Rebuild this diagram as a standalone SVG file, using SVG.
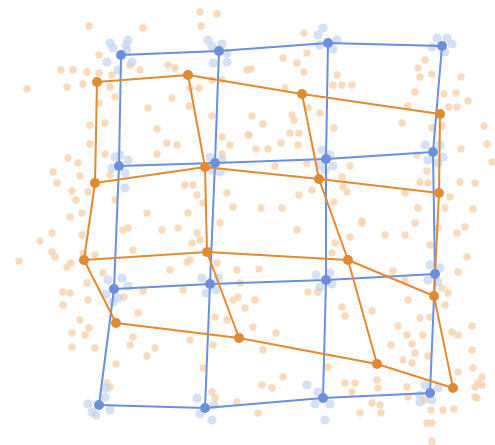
<svg xmlns="http://www.w3.org/2000/svg" width="495" height="445" viewBox="0 0 495 445">
<style>
.od circle{fill:#f6d5b0;opacity:0.85;r:3.7px}
.bd circle{fill:#c3d3f0;opacity:0.7;r:4.6px}
.bl{stroke:#6b8fdb;stroke-width:2;fill:none;stroke-linejoin:round}
.ol{stroke:#e28a30;stroke-width:2;fill:none;stroke-linejoin:round}
.bn{fill:#6b8fdb}
.on{fill:#e28a30}
</style>
<rect width="495" height="445" fill="#ffffff"/>
<g id="samples">
<g class="od">
<circle cx="200" cy="12" r="3.7"/><circle cx="217" cy="14" r="3.7"/><circle cx="201" cy="26" r="3.7"/><circle cx="89" cy="26" r="3.7"/><circle cx="143" cy="28" r="3.7"/><circle cx="99" cy="55" r="3.7"/><circle cx="61" cy="70" r="3.7"/><circle cx="73" cy="70" r="3.7"/><circle cx="87" cy="72" r="3.7"/><circle cx="99" cy="73" r="3.7"/><circle cx="112" cy="75" r="3.7"/><circle cx="130" cy="65" r="3.7"/><circle cx="140" cy="70" r="3.7"/><circle cx="168" cy="65" r="3.7"/><circle cx="175" cy="68" r="3.7"/><circle cx="27" cy="89" r="3.7"/><circle cx="67" cy="87" r="3.7"/><circle cx="83" cy="84" r="3.7"/><circle cx="110" cy="87" r="3.7"/><circle cx="115" cy="97" r="3.7"/><circle cx="172" cy="98" r="3.7"/><circle cx="190" cy="88" r="3.7"/><circle cx="199" cy="88" r="3.7"/><circle cx="212" cy="80" r="3.7"/><circle cx="222" cy="80" r="3.7"/><circle cx="247" cy="70" r="3.7"/><circle cx="99" cy="103" r="3.7"/><circle cx="148" cy="108" r="3.7"/><circle cx="189" cy="106" r="3.7"/><circle cx="212" cy="116" r="3.7"/><circle cx="90" cy="125" r="3.7"/><circle cx="105" cy="123" r="3.7"/><circle cx="157" cy="129" r="3.7"/><circle cx="248" cy="135" r="3.7"/><circle cx="90" cy="144" r="3.7"/><circle cx="167" cy="143" r="3.7"/><circle cx="177" cy="145" r="3.7"/><circle cx="222" cy="137" r="3.7"/><circle cx="230" cy="145" r="3.7"/><circle cx="105" cy="154" r="3.7"/><circle cx="157" cy="154" r="3.7"/><circle cx="68" cy="158" r="3.7"/><circle cx="78" cy="163" r="3.7"/><circle cx="53" cy="172" r="3.7"/><circle cx="80" cy="176" r="3.7"/><circle cx="110" cy="175" r="3.7"/><circle cx="222" cy="154" r="3.7"/><circle cx="57" cy="183" r="3.7"/><circle cx="185" cy="185" r="3.7"/><circle cx="193" cy="185" r="3.7"/><circle cx="72" cy="191" r="3.7"/><circle cx="76" cy="200" r="3.7"/><circle cx="88" cy="192" r="3.7"/><circle cx="197" cy="195" r="3.7"/><circle cx="227" cy="193" r="3.7"/><circle cx="203" cy="203" r="3.7"/><circle cx="233" cy="207" r="3.7"/><circle cx="70" cy="217" r="3.7"/><circle cx="82" cy="213" r="3.7"/><circle cx="147" cy="213" r="3.7"/><circle cx="188" cy="213" r="3.7"/><circle cx="115" cy="200" r="3.7"/>
<circle cx="304" cy="33" r="3.7"/><circle cx="283" cy="58" r="3.7"/><circle cx="297" cy="63" r="3.7"/><circle cx="307" cy="53" r="3.7"/><circle cx="304" cy="72" r="3.7"/><circle cx="251" cy="69" r="3.7"/><circle cx="337" cy="75" r="3.7"/><circle cx="333" cy="85" r="3.7"/><circle cx="342" cy="85" r="3.7"/><circle cx="352" cy="85" r="3.7"/><circle cx="285" cy="88" r="3.7"/><circle cx="425" cy="60" r="3.7"/><circle cx="418" cy="68" r="3.7"/><circle cx="420" cy="77" r="3.7"/><circle cx="432" cy="74" r="3.7"/><circle cx="461" cy="77" r="3.7"/><circle cx="415" cy="92" r="3.7"/><circle cx="444" cy="94" r="3.7"/><circle cx="456" cy="93" r="3.7"/><circle cx="468" cy="101" r="3.7"/><circle cx="449" cy="107" r="3.7"/><circle cx="457" cy="107" r="3.7"/><circle cx="408" cy="106" r="3.7"/><circle cx="308" cy="108" r="3.7"/><circle cx="320" cy="113" r="3.7"/><circle cx="252" cy="116" r="3.7"/><circle cx="263" cy="124" r="3.7"/><circle cx="292" cy="115" r="3.7"/><circle cx="294" cy="120" r="3.7"/><circle cx="290" cy="133" r="3.7"/><circle cx="299" cy="133" r="3.7"/><circle cx="249" cy="135" r="3.7"/><circle cx="334" cy="128" r="3.7"/><circle cx="402" cy="123" r="3.7"/><circle cx="432" cy="128" r="3.7"/><circle cx="442" cy="126" r="3.7"/><circle cx="484" cy="126" r="3.7"/><circle cx="487" cy="144" r="3.7"/><circle cx="492" cy="162" r="3.7"/><circle cx="298" cy="145" r="3.7"/><circle cx="281" cy="143" r="3.7"/><circle cx="256" cy="149" r="3.7"/><circle cx="268" cy="149" r="3.7"/><circle cx="461" cy="149" r="3.7"/><circle cx="417" cy="155" r="3.7"/><circle cx="275" cy="166" r="3.7"/><circle cx="307" cy="163" r="3.7"/><circle cx="350" cy="166" r="3.7"/><circle cx="342" cy="177" r="3.7"/><circle cx="427" cy="171" r="3.7"/><circle cx="420" cy="182" r="3.7"/><circle cx="428" cy="183" r="3.7"/><circle cx="460" cy="182" r="3.7"/><circle cx="475" cy="183" r="3.7"/><circle cx="343" cy="187" r="3.7"/><circle cx="347" cy="192" r="3.7"/><circle cx="299" cy="195" r="3.7"/><circle cx="312" cy="190" r="3.7"/><circle cx="334" cy="202" r="3.7"/><circle cx="450" cy="197" r="3.7"/><circle cx="445" cy="208" r="3.7"/><circle cx="418" cy="208" r="3.7"/><circle cx="473" cy="209" r="3.7"/><circle cx="261" cy="208" r="3.7"/><circle cx="282" cy="208" r="3.7"/><circle cx="362" cy="221" r="3.7"/><circle cx="405" cy="193" r="3.7"/>
<circle cx="52" cy="233" r="3.7"/><circle cx="40" cy="241" r="3.7"/><circle cx="52" cy="252" r="3.7"/><circle cx="55" cy="257" r="3.7"/><circle cx="19" cy="261" r="3.7"/><circle cx="67" cy="267" r="3.7"/><circle cx="71" cy="263" r="3.7"/><circle cx="83" cy="253" r="3.7"/><circle cx="95" cy="255" r="3.7"/><circle cx="82" cy="235" r="3.7"/><circle cx="123" cy="230" r="3.7"/><circle cx="128" cy="228" r="3.7"/><circle cx="133" cy="250" r="3.7"/><circle cx="162" cy="230" r="3.7"/><circle cx="178" cy="228" r="3.7"/><circle cx="192" cy="243" r="3.7"/><circle cx="197" cy="233" r="3.7"/><circle cx="200" cy="240" r="3.7"/><circle cx="170" cy="270" r="3.7"/><circle cx="187" cy="262" r="3.7"/><circle cx="190" cy="260" r="3.7"/><circle cx="220" cy="223" r="3.7"/><circle cx="217" cy="263" r="3.7"/><circle cx="103" cy="273" r="3.7"/><circle cx="87" cy="283" r="3.7"/><circle cx="63" cy="292" r="3.7"/><circle cx="70" cy="293" r="3.7"/><circle cx="63" cy="305" r="3.7"/><circle cx="88" cy="300" r="3.7"/><circle cx="124" cy="297" r="3.7"/><circle cx="143" cy="291" r="3.7"/><circle cx="183" cy="290" r="3.7"/><circle cx="80" cy="320" r="3.7"/><circle cx="89" cy="328" r="3.7"/><circle cx="72" cy="333" r="3.7"/><circle cx="85" cy="335" r="3.7"/><circle cx="138" cy="313" r="3.7"/><circle cx="133" cy="337" r="3.7"/><circle cx="130" cy="345" r="3.7"/><circle cx="155" cy="348" r="3.7"/><circle cx="147" cy="356" r="3.7"/><circle cx="72" cy="347" r="3.7"/><circle cx="95" cy="348" r="3.7"/><circle cx="116" cy="364" r="3.7"/><circle cx="190" cy="340" r="3.7"/><circle cx="203" cy="368" r="3.7"/><circle cx="213" cy="345" r="3.7"/><circle cx="215" cy="317" r="3.7"/><circle cx="227" cy="320" r="3.7"/><circle cx="233" cy="300" r="3.7"/><circle cx="238" cy="297" r="3.7"/><circle cx="237" cy="270" r="3.7"/><circle cx="245" cy="308" r="3.7"/><circle cx="240" cy="283" r="3.7"/><circle cx="212" cy="392" r="3.7"/><circle cx="215" cy="398" r="3.7"/><circle cx="237" cy="402" r="3.7"/><circle cx="107" cy="383" r="3.7"/><circle cx="110" cy="387" r="3.7"/>
<circle cx="297" cy="230" r="3.7"/><circle cx="350" cy="237" r="3.7"/><circle cx="362" cy="223" r="3.7"/><circle cx="385" cy="235" r="3.7"/><circle cx="405" cy="235" r="3.7"/><circle cx="415" cy="223" r="3.7"/><circle cx="438" cy="228" r="3.7"/><circle cx="457" cy="233" r="3.7"/><circle cx="465" cy="227" r="3.7"/><circle cx="430" cy="245" r="3.7"/><circle cx="467" cy="257" r="3.7"/><circle cx="458" cy="272" r="3.7"/><circle cx="335" cy="243" r="3.7"/><circle cx="332" cy="253" r="3.7"/><circle cx="259" cy="269" r="3.7"/><circle cx="393" cy="271" r="3.7"/><circle cx="405" cy="280" r="3.7"/><circle cx="308" cy="292" r="3.7"/><circle cx="318" cy="292" r="3.7"/><circle cx="255" cy="300" r="3.7"/><circle cx="342" cy="307" r="3.7"/><circle cx="345" cy="316" r="3.7"/><circle cx="372" cy="311" r="3.7"/><circle cx="408" cy="300" r="3.7"/><circle cx="420" cy="318" r="3.7"/><circle cx="430" cy="317" r="3.7"/><circle cx="442" cy="288" r="3.7"/><circle cx="448" cy="293" r="3.7"/><circle cx="445" cy="305" r="3.7"/><circle cx="472" cy="326" r="3.7"/><circle cx="253" cy="327" r="3.7"/><circle cx="276" cy="333" r="3.7"/><circle cx="398" cy="326" r="3.7"/><circle cx="407" cy="335" r="3.7"/><circle cx="423" cy="335" r="3.7"/><circle cx="412" cy="344" r="3.7"/><circle cx="452" cy="332" r="3.7"/><circle cx="458" cy="335" r="3.7"/><circle cx="391" cy="345" r="3.7"/><circle cx="415" cy="353" r="3.7"/><circle cx="428" cy="356" r="3.7"/><circle cx="403" cy="360" r="3.7"/><circle cx="412" cy="363" r="3.7"/><circle cx="472" cy="350" r="3.7"/><circle cx="473" cy="368" r="3.7"/><circle cx="482" cy="377" r="3.7"/><circle cx="478" cy="383" r="3.7"/><circle cx="475" cy="387" r="3.7"/><circle cx="458" cy="372" r="3.7"/><circle cx="263" cy="350" r="3.7"/><circle cx="283" cy="377" r="3.7"/><circle cx="328" cy="367" r="3.7"/><circle cx="262" cy="385" r="3.7"/><circle cx="272" cy="388" r="3.7"/><circle cx="345" cy="383" r="3.7"/><circle cx="355" cy="383" r="3.7"/><circle cx="377" cy="380" r="3.7"/><circle cx="378" cy="388" r="3.7"/><circle cx="352" cy="392" r="3.7"/><circle cx="407" cy="387" r="3.7"/><circle cx="408" cy="397" r="3.7"/><circle cx="425" cy="400" r="3.7"/><circle cx="372" cy="403" r="3.7"/><circle cx="380" cy="405" r="3.7"/><circle cx="381" cy="413" r="3.7"/><circle cx="360" cy="413" r="3.7"/><circle cx="431" cy="410" r="3.7"/><circle cx="443" cy="410" r="3.7"/><circle cx="454" cy="409" r="3.7"/><circle cx="432" cy="423" r="3.7"/><circle cx="427" cy="423" r="3.7"/><circle cx="475" cy="397" r="3.7"/><circle cx="432" cy="441" r="3.7"/><circle cx="258" cy="413" r="3.7"/><circle cx="482" cy="385" r="3.7"/><circle cx="477" cy="398" r="3.7"/>
</g>
<g class="bd">
<circle cx="110" cy="43" r="4.6"/><circle cx="128" cy="40" r="4.6"/><circle cx="127" cy="50" r="4.6"/><circle cx="107" cy="62" r="4.6"/><circle cx="132" cy="62" r="4.6"/><circle cx="118" cy="70" r="4.6"/><circle cx="113" cy="48" r="4.6"/><circle cx="126" cy="45" r="4.6"/>
<circle cx="208" cy="40" r="4.6"/><circle cx="212" cy="46" r="4.6"/><circle cx="227" cy="53" r="4.6"/><circle cx="213" cy="63" r="4.6"/><circle cx="227" cy="62" r="4.6"/><circle cx="222" cy="44" r="4.6"/>
<circle cx="318" cy="35" r="4.6"/><circle cx="320" cy="45" r="4.6"/><circle cx="333" cy="49" r="4.6"/><circle cx="323" cy="28" r="4.6"/><circle cx="337" cy="40" r="4.6"/>
<circle cx="432" cy="47" r="4.6"/><circle cx="447" cy="38" r="4.6"/><circle cx="452" cy="44" r="4.6"/><circle cx="437" cy="38" r="4.6"/><circle cx="445" cy="52" r="4.6"/>
<circle cx="115" cy="157" r="4.6"/><circle cx="128" cy="160" r="4.6"/><circle cx="125" cy="173" r="4.6"/><circle cx="125" cy="188" r="4.6"/><circle cx="112" cy="168" r="4.6"/><circle cx="120" cy="155" r="4.6"/>
<circle cx="210" cy="157" r="4.6"/><circle cx="222" cy="160" r="4.6"/><circle cx="212" cy="170" r="4.6"/><circle cx="220" cy="172" r="4.6"/>
<circle cx="322" cy="150" r="4.6"/><circle cx="330" cy="155" r="4.6"/><circle cx="320" cy="165" r="4.6"/><circle cx="333" cy="166" r="4.6"/><circle cx="325" cy="170" r="4.6"/>
<circle cx="425" cy="145" r="4.6"/><circle cx="428" cy="160" r="4.6"/><circle cx="440" cy="145" r="4.6"/><circle cx="443" cy="157" r="4.6"/><circle cx="438" cy="163" r="4.6"/>
<circle cx="108" cy="280" r="4.6"/><circle cx="122" cy="278" r="4.6"/><circle cx="106" cy="294" r="4.6"/><circle cx="118" cy="298" r="4.6"/><circle cx="113" cy="302" r="4.6"/><circle cx="128" cy="286" r="4.6"/>
<circle cx="202" cy="278" r="4.6"/><circle cx="206" cy="293" r="4.6"/><circle cx="216" cy="290" r="4.6"/><circle cx="218" cy="278" r="4.6"/>
<circle cx="316" cy="275" r="4.6"/><circle cx="320" cy="287" r="4.6"/><circle cx="332" cy="284" r="4.6"/><circle cx="330" cy="273" r="4.6"/>
<circle cx="430" cy="265" r="4.6"/><circle cx="440" cy="268" r="4.6"/><circle cx="438" cy="282" r="4.6"/><circle cx="428" cy="280" r="4.6"/>
<circle cx="88" cy="404" r="4.6"/><circle cx="92" cy="412" r="4.6"/><circle cx="105" cy="397" r="4.6"/><circle cx="110" cy="410" r="4.6"/><circle cx="96" cy="415" r="4.6"/><circle cx="106" cy="388" r="4.6"/>
<circle cx="197" cy="398" r="4.6"/><circle cx="200" cy="414" r="4.6"/><circle cx="212" cy="420" r="4.6"/><circle cx="214" cy="405" r="4.6"/>
<circle cx="307" cy="385" r="4.6"/><circle cx="318" cy="392" r="4.6"/><circle cx="315" cy="404" r="4.6"/><circle cx="330" cy="404" r="4.6"/><circle cx="325" cy="420" r="4.6"/>
<circle cx="420" cy="395" r="4.6"/><circle cx="425" cy="385" r="4.6"/><circle cx="438" cy="388" r="4.6"/><circle cx="432" cy="400" r="4.6"/><circle cx="420" cy="402" r="4.6"/>
</g>
</g>
<g id="connectors">
<g class="bl">
<polyline points="121,55 219,51 328,43 442,46"/>
<polyline points="119,166 215,163 326,159 433,152"/>
<polyline points="114,289 210,284 326,280 435,274"/>
<polyline points="99,405 205,408 323,398 430,393"/>
<polyline points="121,55 119,166 114,289 99,405"/>
<polyline points="219,51 215,163 210,284 205,408"/>
<polyline points="328,43 326,159 326,280 323,398"/>
<polyline points="442,46 433,152 435,274 430,393"/>
</g>
<g class="ol">
<polyline points="97,82 188,75 302,94 440,114"/>
<polyline points="95,183 205,167 319,179 439,193"/>
<polyline points="84,260 207,252 348,260 434,296"/>
<polyline points="116,323 239,338 377,364 453,388"/>
<polyline points="97,82 95,183 84,260 116,323"/>
<polyline points="188,75 205,167 207,252 239,338"/>
<polyline points="302,94 319,179 348,260 377,364"/>
<polyline points="440,114 439,193 434,296 453,388"/>
</g>
</g>
<g id="blue-nodes" class="bn">
<g id="b00"><circle cx="121" cy="55" r="5"/></g>
<g id="b01"><circle cx="219" cy="51" r="5"/></g>
<g id="b02"><circle cx="328" cy="43" r="5"/></g>
<g id="b03"><circle cx="442" cy="46" r="5"/></g>
<g id="b10"><circle cx="119" cy="166" r="5"/></g>
<g id="b11"><circle cx="215" cy="163" r="5"/></g>
<g id="b12"><circle cx="326" cy="159" r="5"/></g>
<g id="b13"><circle cx="433" cy="152" r="5"/></g>
<g id="b20"><circle cx="114" cy="289" r="5"/></g>
<g id="b21"><circle cx="210" cy="284" r="5"/></g>
<g id="b22"><circle cx="326" cy="280" r="5"/></g>
<g id="b23"><circle cx="435" cy="274" r="5"/></g>
<g id="b30"><circle cx="99" cy="405" r="5"/></g>
<g id="b31"><circle cx="205" cy="408" r="5"/></g>
<g id="b32"><circle cx="323" cy="398" r="5"/></g>
<g id="b33"><circle cx="430" cy="393" r="5"/></g>
</g>
<g id="orange-nodes" class="on">
<g id="o00"><circle cx="97" cy="82" r="5"/></g>
<g id="o01"><circle cx="188" cy="75" r="5"/></g>
<g id="o02"><circle cx="302" cy="94" r="5"/></g>
<g id="o03"><circle cx="440" cy="114" r="5"/></g>
<g id="o10"><circle cx="95" cy="183" r="5"/></g>
<g id="o11"><circle cx="205" cy="167" r="5"/></g>
<g id="o12"><circle cx="319" cy="179" r="5"/></g>
<g id="o13"><circle cx="439" cy="193" r="5"/></g>
<g id="o20"><circle cx="84" cy="260" r="5"/></g>
<g id="o21"><circle cx="207" cy="252" r="5"/></g>
<g id="o22"><circle cx="348" cy="260" r="5"/></g>
<g id="o23"><circle cx="434" cy="296" r="5"/></g>
<g id="o30"><circle cx="116" cy="323" r="5"/></g>
<g id="o31"><circle cx="239" cy="338" r="5"/></g>
<g id="o32"><circle cx="377" cy="364" r="5"/></g>
<g id="o33"><circle cx="453" cy="388" r="5"/></g>
</g>
</svg>
